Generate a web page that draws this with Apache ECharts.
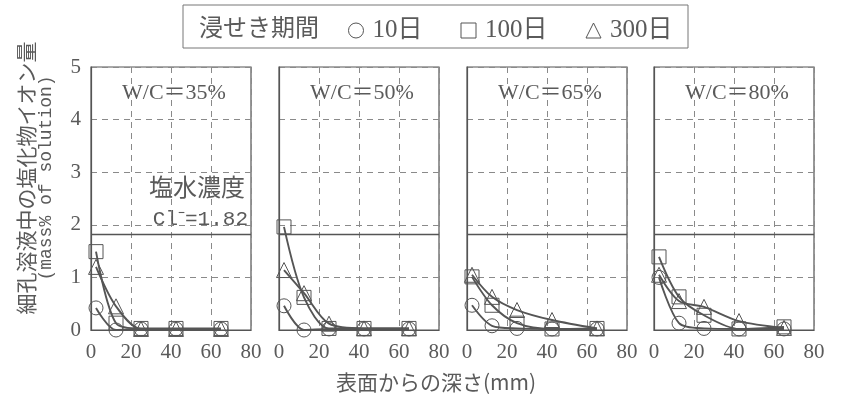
<!DOCTYPE html>
<html>
<head>
<meta charset="utf-8">
<script src="https://cdn.jsdelivr.net/npm/echarts@6/dist/echarts.min.js"></script>
<style>
  html, body { margin: 0; padding: 0; background: #fff; }
  #chart { width: 841px; height: 396px; }
</style>
</head>
<body>
<div id="chart"></div>
<script>
// Depth of each sampled layer (mm)
const depthMm = [2.5, 12.5, 25, 42.5, 65];

// Water-cement ratio of each panel (%)
const wcRatios = ['35', '50', '65', '80'];

// Immersion periods (legend names)
const periods = ['10日', '100日', '300日'];

// Chloride in pore solution (mass% of solution), one row per panel
const cl10d = [
  [0.42, 0.00, 0.02, 0.02, 0.02],
  [0.46, 0.00, 0.02, 0.02, 0.02],
  [0.47, 0.08, 0.03, 0.02, 0.02],
  [1.00, 0.13, 0.03, 0.02, 0.02]
];
const cl100d = [
  [1.49, 0.13, 0.03, 0.03, 0.03],
  [1.96, 0.62, 0.03, 0.03, 0.03],
  [1.01, 0.47, 0.13, 0.02, 0.03],
  [1.39, 0.63, 0.28, 0.02, 0.06]
];
const cl300d = [
  [1.20, 0.45, 0.02, 0.02, 0.02],
  [1.14, 0.70, 0.12, 0.03, 0.03],
  [1.05, 0.63, 0.38, 0.19, 0.03],
  [1.05, 0.55, 0.44, 0.17, 0.04]
];

// Chloride concentration of the immersion brine
const brineCl = 1.82;

// Axis ticks
const xTicks = [0, 20, 40, 60, 80];
const yTicks = [0, 1, 2, 3, 4, 5];

const INK = '#555';
const TEXT = '#5a5a5a';
const SERIF = "'Liberation Serif', 'Noto Sans CJK JP'";

const panelLeft = [91, 279, 467, 654];
const panelW = 160, panelTop = 67, panelH = 263;

const chart = echarts.init(document.getElementById('chart'));

const grids = [], xAxes = [], yAxes = [], series = [], titles = [];
const symbols = ['circle', 'rect', 'triangle'];
const dataSets = [cl10d, cl100d, cl300d];

wcRatios.forEach((wc, i) => {
  grids.push({
    left: panelLeft[i], top: panelTop, width: panelW, height: panelH,
    show: true, borderColor: INK, borderWidth: 1.2, backgroundColor: '#fff'
  });
  xAxes.push({
    gridIndex: i, type: 'value',
    min: xTicks[0], max: xTicks[xTicks.length - 1], interval: 20,
    axisLine: { show: true, lineStyle: { color: INK, width: 1.2 } },
    axisTick: { show: false },
    axisLabel: { color: TEXT, fontSize: 21, fontFamily: SERIF, margin: 12 },
    splitLine: { show: true, lineStyle: { color: '#8a8a8a', type: [6, 5], width: 1 } }
  });
  yAxes.push({
    gridIndex: i, type: 'value',
    min: yTicks[0], max: yTicks[yTicks.length - 1], interval: 1,
    axisLine: { show: true, lineStyle: { color: INK, width: 1.2 } },
    axisTick: { show: false },
    axisLabel: { show: i === 0, color: TEXT, fontSize: 21, fontFamily: SERIF, margin: 10 },
    splitLine: { show: true, lineStyle: { color: '#8a8a8a', type: [6, 5], width: 1 } }
  });
  titles.push({
    text: 'W/C＝' + wc + '%',
    left: panelLeft[i] + panelW / 2 - 2, top: 77, textAlign: 'center',
    textStyle: { color: TEXT, fontSize: 22, fontWeight: 'normal', fontFamily: SERIF }
  });
  periods.forEach((p, k) => {
    const s = {
      name: p, type: 'line', xAxisIndex: i, yAxisIndex: i,
      data: depthMm.map((d, j) => [d, dataSets[k][i][j]]),
      smooth: 0.3,
      symbol: symbols[k], symbolSize: k === 2 ? 15 : 14,
      lineStyle: { color: INK, width: 1.9 },
      itemStyle: { color: 'rgba(255,255,255,0)', borderColor: INK, borderWidth: 1 },
      z: 3
    };
    if (k === 0) {
      s.markLine = {
        silent: true, symbol: 'none', label: { show: false },
        lineStyle: { color: INK, type: 'solid', width: 1.3 },
        data: [{ yAxis: brineCl }]
      };
    }
    series.push(s);
  });
});

chart.setOption({
  backgroundColor: '#fff',
  animation: false,
  title: titles,
  legend: {
    data: periods.map((p, k) => ({ name: p, icon: symbols[k] })),
    left: 343, top: 13,
    itemWidth: 15, itemHeight: 15, itemGap: 38,
    itemStyle: { color: 'rgba(255,255,255,0)', borderColor: INK, borderWidth: 1 },
    textStyle: { color: TEXT, fontSize: 25, fontFamily: SERIF, padding: [0, 0, 0, 4] }
  },
  grid: grids,
  xAxis: xAxes,
  yAxis: yAxes,
  series: series,
  graphic: [
    { type: 'rect', shape: { x: 183, y: 5, width: 505, height: 43 },
      style: { fill: 'none', stroke: '#777', lineWidth: 1 } },
    { type: 'text', x: 199, y: 27,
      style: { text: '浸せき期間', fill: TEXT, font: "24px 'Noto Sans CJK JP'", verticalAlign: 'middle' } },
    { type: 'text', x: 245, y: 187,
      style: { text: '塩水濃度', fill: TEXT, font: "24px 'Noto Sans CJK JP'", align: 'right', verticalAlign: 'middle' } },
    { type: 'text', x: 248, y: 219,
      style: { text: 'Cl⁻=' + brineCl.toFixed(2), fill: TEXT, font: "21px 'Liberation Mono'", align: 'right', verticalAlign: 'middle' } },
    { type: 'text', x: 26, y: 178, rotation: Math.PI / 2,
      style: { text: '細孔溶液中の塩化物イオン量', fill: TEXT, font: "21px 'Noto Sans CJK JP'", align: 'center', verticalAlign: 'middle' } },
    { type: 'text', x: 46, y: 178, rotation: Math.PI / 2,
      style: { text: '(mass% of solution)', fill: TEXT, font: "18px 'Liberation Mono'", align: 'center', verticalAlign: 'middle' } },
    { type: 'text', x: 436, y: 382,
      style: { text: '表面からの深さ(mm)', fill: TEXT, font: "21px 'Noto Sans CJK JP'", align: 'center', verticalAlign: 'middle' } }
  ]
});
</script>
</body>
</html>
